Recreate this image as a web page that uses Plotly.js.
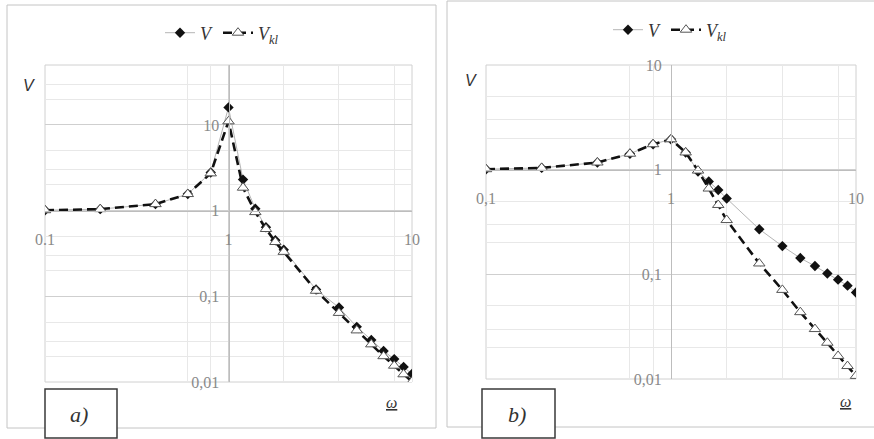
<!DOCTYPE html>
<html>
<head>
<meta charset="utf-8">
<script src="https://cdn.plot.ly/plotly-3.0.1.min.js"></script>
<style>
  html, body { margin: 0; padding: 0; background: #fff; }
  #chart { width: 874px; height: 439px; }
</style>
</head>
<body>
<div id="chart"></div>
<script>
// Frequency grid shared by both panels
const omega = [0.1, 0.2, 0.4, 0.6, 0.8, 1, 1.2, 1.4, 1.6, 1.8, 2, 3, 4, 5, 6, 7, 8, 9, 10];

// Panel a)
const vA   = [1.01, 1.04, 1.19, 1.56, 2.78, 16, 2.3, 1.05, 0.64, 0.45, 0.35, 0.12, 0.074, 0.044, 0.031, 0.023, 0.0185, 0.015, 0.0124];
const vklA = [1.01, 1.04, 1.19, 1.56, 2.72, 11, 1.85, 0.96, 0.61, 0.43, 0.33, 0.116, 0.064, 0.040, 0.0275, 0.020, 0.0155, 0.0123, 0.0101];

// Panel b)
const vB   = [1.01, 1.04, 1.17, 1.42, 1.75, 1.95, 1.46, 0.96, 0.77, 0.64, 0.53, 0.27, 0.186, 0.143, 0.12, 0.102, 0.089, 0.078, 0.067];
const vklB = [1.01, 1.04, 1.17, 1.42, 1.75, 1.95, 1.46, 0.98, 0.66, 0.46, 0.33, 0.127, 0.071, 0.0435, 0.030, 0.0222, 0.0166, 0.0133, 0.0107];

// Tick labels
const xTickVals = [0.1, 1, 10];
const xTickTextA = ['0.1', '1', '10'];
const xTickTextB = ['0,1', '1', '10'];
const yTickVals = [0.01, 0.1, 1, 10];
const yTickText = ['0,01', '0,1', '1', '10'];

const seriesNames = ['<i>V</i>', '<i>V</i><sub><i>kl</i></sub>'];

const W = 874, H = 439;
const px = v => v / W;            // pixel -> paper x
const py = v => (H - v) / H;      // pixel -> paper y

const serif = 'Liberation Serif, Times New Roman, serif';
const tickFont = { family: serif, size: 16, color: '#8a8a8a' };

// Plot-area pixel boxes and y ranges
const panels = [
  { x0: 45, x1: 412, y0: 65, y1: 382, yMin: 0.01, yMax: 50, xText: xTickTextA },
  { x0: 486, x1: 856, y0: 65, y1: 379, yMin: 0.01, yMax: 10, xText: xTickTextB }
];

function vTrace(x, y, xa, ya, leg) {
  return {
    x: x, y: y, xaxis: xa, yaxis: ya, legend: leg,
    name: seriesNames[0], mode: 'lines+markers', type: 'scatter',
    line: { color: '#b5b5b5', width: 1 },
    marker: { symbol: 'diamond', size: 8, color: '#111' }
  };
}
function vklTrace(x, y, xa, ya, leg) {
  return {
    x: x, y: y, xaxis: xa, yaxis: ya, legend: leg,
    name: seriesNames[1], mode: 'lines+markers', type: 'scatter',
    line: { color: '#111', width: 2.6, dash: '9px,5px' },
    marker: { symbol: 'triangle-up', size: 10, color: '#fff', line: { color: '#555', width: 1 } }
  };
}

const data = [
  vTrace(omega, vA, 'x', 'y', 'legend'),
  vklTrace(omega, vklA, 'x', 'y', 'legend'),
  vTrace(omega, vB, 'x2', 'y2', 'legend2'),
  vklTrace(omega, vklB, 'x2', 'y2', 'legend2')
];

const layout = {
  width: W, height: H,
  margin: { l: 0, r: 0, t: 0, b: 0 },
  paper_bgcolor: '#fff', plot_bgcolor: '#fff',
  shapes: [], annotations: []
};

panels.forEach((p, i) => {
  const s = i === 0 ? '' : '2';
  const xd = [px(p.x0), px(p.x1)];
  const yd = [py(p.y1), py(p.y0)];
  const lmin = Math.log10(p.yMin), lmax = Math.log10(p.yMax);
  // The horizontal axis crosses at V = 1, the vertical one at omega = 1
  const xPos = yd[0] + (0 - lmin) / (lmax - lmin) * (yd[1] - yd[0]);
  const yPos = xd[0] + (0 - (-1)) / 2 * (xd[1] - xd[0]);

  layout['xaxis' + s] = {
    type: 'log', range: [-1, 1], domain: xd,
    anchor: 'free', position: xPos,
    tickmode: 'array', tickvals: xTickVals, ticktext: p.xText,
    tickfont: tickFont, ticks: '', ticklabelstandoff: 14,
    showline: true, linecolor: '#bdbdbd', linewidth: 1,
    showgrid: true, gridcolor: '#cfcfcf', gridwidth: 1, zeroline: false,
    minor: { tickmode: 'array', tickvals: [0.6, 0.8, 2, 4, 8], showgrid: true, gridcolor: '#e8e8e8', ticks: '' }
  };
  layout['yaxis' + s] = {
    type: 'log', range: [lmin, lmax], domain: yd,
    anchor: 'free', position: yPos,
    tickmode: 'array', tickvals: yTickVals, ticktext: yTickText,
    tickfont: tickFont, ticks: '', ticklabelstandoff: 6,
    showline: true, linecolor: '#bdbdbd', linewidth: 1,
    showgrid: true, gridcolor: '#cfcfcf', gridwidth: 1, zeroline: false,
    minor: { tickmode: 'array', tickvals: [0.02, 0.03, 0.05, 0.2, 0.3, 0.5, 2, 3, 5, 20, 30], showgrid: true, gridcolor: '#e8e8e8', ticks: '' }
  };

  // plot-area frame
  layout.shapes.push({
    type: 'rect', xref: 'x' + s + ' domain', yref: 'y' + s + ' domain',
    x0: 0, x1: 1, y0: 0, y1: 1, line: { color: '#d0d0d0', width: 1 }, layer: 'below'
  });
});

// Outer frames of the two panels
layout.shapes.push(
  { type: 'rect', xref: 'paper', yref: 'paper', x0: px(7), x1: px(436), y0: py(428), y1: py(5), line: { color: '#c4c4c4', width: 1 } },
  { type: 'rect', xref: 'paper', yref: 'paper', x0: px(447), x1: px(880), y0: py(427), y1: py(1), line: { color: '#c4c4c4', width: 1 } },
  // label boxes
  { type: 'rect', xref: 'paper', yref: 'paper', x0: px(45), x1: px(117), y0: py(438), y1: py(389), line: { color: '#3a3a3a', width: 1.5 }, fillcolor: '#fff' },
  { type: 'rect', xref: 'paper', yref: 'paper', x0: px(482), x1: px(555), y0: py(438), y1: py(389), line: { color: '#3a3a3a', width: 1.5 }, fillcolor: '#fff' }
);

function note(text, x, y, font) {
  layout.annotations.push({ text: text, xref: 'paper', yref: 'paper', x: px(x), y: py(y), showarrow: false, xanchor: 'center', yanchor: 'middle', font: font });
}
const vFont = { family: 'Liberation Sans, Arial, sans-serif', size: 16, color: '#333', style: 'italic' };
const wFont = { family: serif, size: 16, color: '#333' };
const tagFont = { family: serif, size: 22, color: '#333' };
note('V', 29, 85, vFont);
note('V', 471, 80, vFont);
note('<u><i>ω</i></u>', 391, 402, wFont);
note('<u><i>ω</i></u>', 845, 401, wFont);
note('<i>a)</i>', 79, 414, tagFont);
note('<i>b)</i>', 517, 414, tagFont);

const legendBase = {
  orientation: 'h', xanchor: 'center', yanchor: 'middle',
  font: { family: serif, size: 18, color: '#333' },
  bgcolor: 'rgba(0,0,0,0)', itemwidth: 30, tracegroupgap: 0
};
layout.legend = Object.assign({}, legendBase, { x: px(222), y: py(33) });
layout.legend2 = Object.assign({}, legendBase, { x: px(670), y: py(30) });

Plotly.newPlot('chart', data, layout, { staticPlot: true });
</script>
</body>
</html>
